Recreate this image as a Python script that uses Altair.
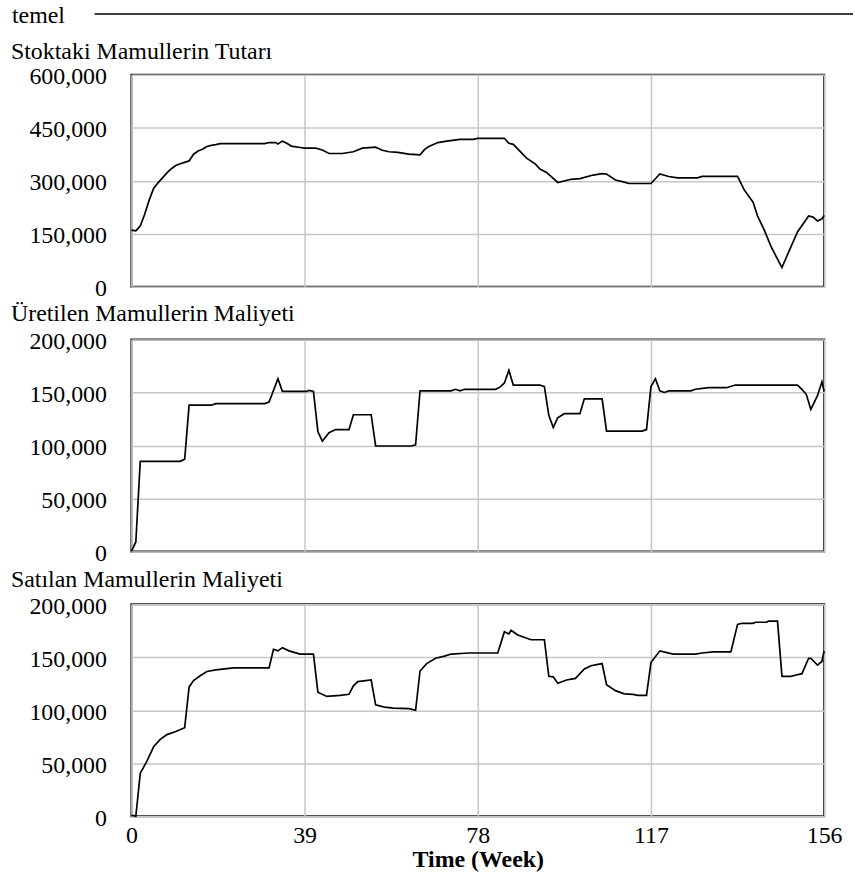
import altair as alt
import pandas as pd

FONT = "Liberation Serif"
FONT_SIZE = 24

# Time axis (weeks)
x_ticks = [0, 39, 78, 117, 156]

# Stoktaki Mamullerin Tutarı
stock_t = [0, 1, 2, 3, 4, 5, 6, 8, 9, 10, 11, 12, 13, 14, 15, 16, 17, 18, 19, 20,
           30, 31, 32.5, 33, 34, 35, 36, 38, 39, 41.5, 43, 44.5, 47.5, 50, 52, 55,
           56.5, 58, 60, 62.5, 65, 66, 67, 69, 71, 74, 77, 78, 84, 85, 86, 89, 91,
           92, 93.5, 94.5, 96, 99, 101, 104, 106, 107, 109, 111, 112, 117, 119, 121,
           123, 127.5, 128.5, 136.5, 138, 140, 141, 142.5, 144, 145, 146.5, 148,
           150, 152.5, 153.5, 154.5, 155.5, 156]
stock_v = [160000, 158000, 172000, 205000, 245000, 278000, 294000, 322000, 334000,
           343000, 348000, 352000, 356000, 375000, 384000, 389000, 397000, 400000,
           402000, 405000, 405000, 408000, 408000, 404000, 412000, 406000, 398000,
           394000, 392000, 392000, 387000, 377000, 377000, 382000, 392000, 395000,
           386000, 382000, 380000, 375000, 373000, 388000, 397000, 408000, 412000,
           417000, 417000, 420000, 420000, 406000, 403000, 364000, 347000, 333000,
           323000, 312000, 295000, 304000, 306000, 316000, 320000, 319000, 302000,
           296000, 292000, 292000, 319000, 312000, 308000, 308000, 312000, 312000,
           274000, 239000, 200000, 161000, 115000, 90000, 54000, 98000, 155000,
           200000, 197000, 186000, 192000, 202000]

# Üretilen Mamullerin Maliyeti
made_t = [0, 1, 2, 11, 12, 13, 18, 19, 30, 31, 33, 34, 39.5, 40, 41, 42, 43, 44.5,
          46, 49, 50, 54, 55, 63, 64, 65, 72, 73, 74, 75, 82, 83, 84, 85, 86, 92, 93,
          94, 95, 96, 97.5, 101, 102, 106, 107, 115, 116, 117, 118, 119, 120, 121,
          126, 127, 130, 134, 136, 150, 151, 152, 153, 154.5, 155.5, 156]
made_v = [0, 9000, 85000, 85000, 87000, 138000, 138000, 139500, 139500, 141000,
          163000, 151000, 151000, 152000, 151000, 113000, 104000, 112000, 115000,
          115000, 129000, 129000, 99500, 99500, 100500, 151500, 151500, 153000,
          151500, 153000, 153000, 155000, 159000, 171000, 157000, 157000, 155500,
          128500, 117000, 126000, 130000, 130000, 144000, 144000, 113500, 113500,
          115000, 155500, 163000, 151500, 150000, 151500, 151500, 153000, 154500,
          154500, 157000, 157000, 153000, 148000, 134000, 147000, 160000, 151000]

# Satılan Mamullerin Maliyeti
sold_t = [0, 1, 2, 3.5, 5, 6.5, 8, 10, 12, 13, 14, 15.5, 17, 19, 21, 23, 31, 32, 33,
          34, 35.5, 38, 41, 42, 44, 47, 49, 50, 51, 54, 55, 57, 59, 62.5, 64, 65,
          66.5, 68.5, 70.5, 72, 76, 82.5, 84, 85, 85.5, 87, 90, 93, 94, 95, 96, 98,
          100, 102, 103.5, 106, 107, 109, 111, 113, 114, 116, 117, 119, 122, 127,
          128.5, 131, 135, 136.5, 137.5, 140, 140.5, 143, 143.5, 145.5, 146.5, 148.5,
          149.5, 151, 152.5, 153, 154.5, 155.5, 156]
sold_v = [1000, 0, 40500, 52000, 65500, 72500, 77000, 80000, 83500, 122000, 128000,
          132500, 136500, 138000, 139000, 140000, 140000, 157500, 156000, 159000,
          156000, 153000, 153000, 117000, 113000, 114000, 115000, 123000, 127000,
          128500, 105000, 103000, 102000, 101500, 100000, 137000, 144000, 149000,
          151000, 153000, 154000, 154000, 174000, 172000, 175500, 171000, 166500,
          166500, 132000, 131500, 125500, 128500, 130000, 139000, 142000, 144000,
          124000, 118500, 115500, 115000, 114000, 114000, 145000, 156000, 153000,
          153000, 154000, 155000, 155000, 181000, 182000, 182000, 183000, 183000,
          184000, 184000, 132000, 132000, 133000, 134500, 149000, 149000, 142500,
          146000, 156000]

stock_ticks = [0, 150000, 300000, 450000, 600000]
cost_ticks = [0, 50000, 100000, 150000, 200000]

PANEL_W = 696
PANEL_H = 213
GRID = "#c6c6c6"


def label_layer(text, x, y, weight="normal"):
    return alt.Chart(pd.DataFrame({"label": [text]})).mark_text(
        font=FONT, fontSize=FONT_SIZE, fontWeight=weight, align="left",
        baseline="alphabetic", color="black"
    ).encode(text="label:N", x=alt.value(x), y=alt.value(y))


def panel(times, values, title, ticks, title_y, bottom=False, extras=()):
    df = pd.DataFrame({"t": times, "v": values})
    x_axis_opts = dict(
        values=x_ticks, grid=True, gridColor=GRID, gridWidth=1.5,
        domain=False, ticks=False, tickSize=0, labelFlush=False,
        labelFont=FONT, labelFontSize=FONT_SIZE, labelColor="black",
        labelBaseline="alphabetic", labelPadding=26,
    )
    if bottom:
        x_axis_opts.update(
            labels=True, title="Time (Week)", titleFont=FONT,
            titleFontSize=FONT_SIZE, titleFontWeight="bold", titleColor="black",
            titleBaseline="alphabetic", titleY=51, titleX=PANEL_W / 2,
        )
    else:
        x_axis_opts.update(labels=False, title="")
    y_axis = alt.Axis(
        values=ticks, format=",d", grid=True, gridColor=GRID, gridWidth=1.5,
        domain=False, ticks=False, tickSize=0, labelPadding=25,
        labelFont=FONT, labelFontSize=FONT_SIZE, labelColor="black",
        labelBaseline="alphabetic", labelOffset=9, labelOverlap=False, title="",
    )
    line = alt.Chart(df).mark_line(color="black", strokeWidth=1.7).encode(
        x=alt.X("t:Q", scale=alt.Scale(domain=[0, 156], nice=False, zero=False),
                axis=alt.Axis(**x_axis_opts)),
        y=alt.Y("v:Q", scale=alt.Scale(domain=[0, ticks[-1]], nice=False),
                axis=y_axis),
    )
    head = label_layer(title, -121, title_y)
    return alt.layer(line, head, *extras).properties(width=PANEL_W, height=PANEL_H)


# legend row above the first panel, plus a corner anchor for the layout origin
legend_text = label_layer("temel", -120, -52)
legend_line = alt.Chart(pd.DataFrame({"a": [0]})).mark_rule(
    color="black", strokeWidth=1.5
).encode(x=alt.value(-37), x2=alt.value(725), y=alt.value(-61))
corner = alt.Chart(pd.DataFrame({"a": [0]})).mark_point(
    shape="square", size=1, filled=True, opacity=0
).encode(x=alt.value(-130), y=alt.value(-71))

p1 = panel(stock_t, stock_v, "Stoktaki Mamullerin Tutarı", stock_ticks, -16,
           extras=(legend_text, legend_line, corner))
p2 = panel(made_t, made_v, "Üretilen Mamullerin Maliyeti", cost_ticks, -19)
p3 = panel(sold_t, sold_v, "Satılan Mamullerin Maliyeti", cost_ticks, -17,
           bottom=True)

chart = alt.vconcat(p1, p2, p3, spacing=53, bounds="flush").properties(
    padding=0
).configure_view(stroke="#1a1a1a", strokeWidth=2)

chart.save("out.html", embed_options={"renderer": "svg", "actions": False})
